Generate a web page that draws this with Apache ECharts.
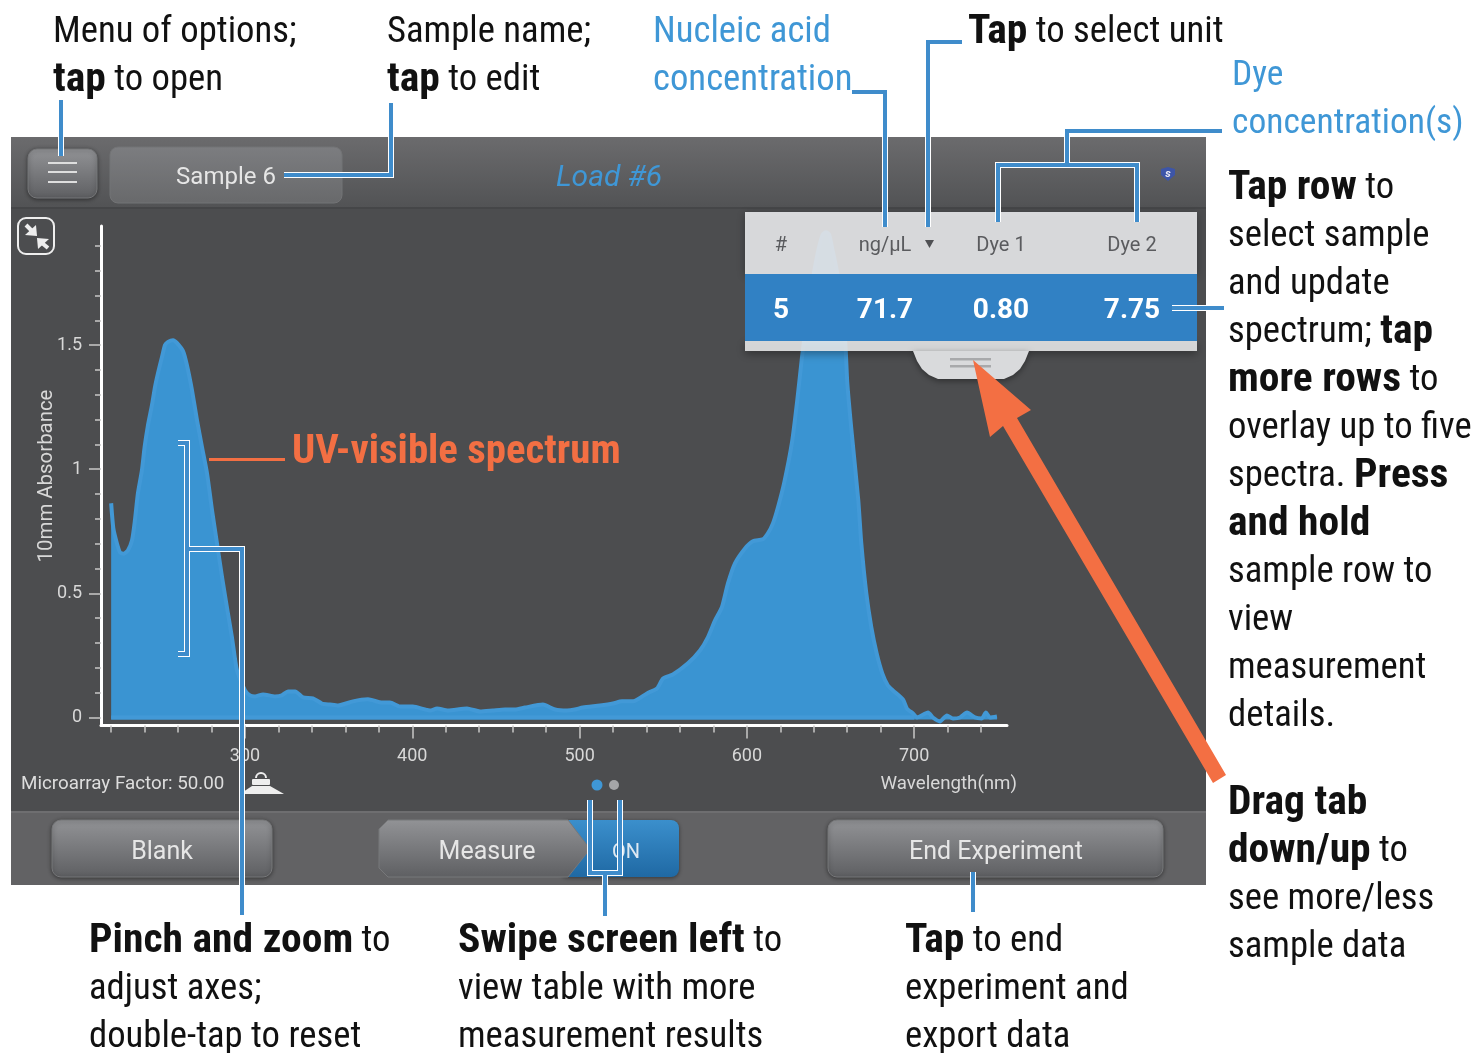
<!DOCTYPE html>
<html>
<head>
<meta charset="utf-8">
<script src="https://cdn.jsdelivr.net/npm/echarts@6/dist/echarts.min.js"></script>
<style>
  html, body { margin: 0; background: #fff; }
  #chart { width: 1475px; height: 1053px; }
</style>
</head>
<body>
<div id="chart"></div>
<script>
// spectrum
var wavelengths = [220, 221.3, 223.5, 225.3, 227.7, 230, 232.5, 234.2, 236, 238.4, 240, 242, 244.4, 246.2, 248, 250.4, 252.2, 254, 257, 259.4, 263, 265.3, 268.3, 271.3, 274.3, 277.3, 280.3, 283.3, 286.3, 289.2, 292.2, 295.2, 300, 303, 306, 310.8, 318, 322, 325.7, 330, 334.7, 340.6, 346, 350.8, 355.6, 364.6, 373.5, 382, 386.7, 392.6, 400.4, 407.6, 410.6, 414.8, 421.3, 432.7, 440.5, 448.2, 455.4, 461.4, 467.4, 478.1, 485.3, 492.5, 497.2, 502, 512.2, 520, 525.3, 532, 540.3, 546.3, 549.9, 555.8, 564.8, 572, 576.7, 581, 585.1, 588.7, 592.9, 598.9, 603.6, 609.6, 612.6, 615.6, 618.6, 622.4, 627, 630, 632.9, 634.1, 640.1, 643, 645.4, 647.3, 649.2, 651, 654, 658.8, 660, 662.4, 666.6, 668.4, 671.4, 674.4, 677.6, 681, 684.3, 687.3, 693.3, 695.7, 699.3, 701.7, 708.3, 711.2, 715.4, 719.6, 723.2, 727.4, 731.6, 736.3, 740.5, 742.9, 745.3, 749.5];
var absorbance = [0.863, 0.762, 0.70, 0.665, 0.66, 0.673, 0.714, 0.794, 0.903, 0.996, 1.089, 1.177, 1.258, 1.331, 1.387, 1.452, 1.5, 1.513, 1.52, 1.508, 1.475, 1.419, 1.319, 1.198, 1.089, 0.984, 0.835, 0.70, 0.565, 0.444, 0.323, 0.19, 0.109, 0.089, 0.085, 0.093, 0.085, 0.089, 0.105, 0.105, 0.081, 0.077, 0.056, 0.052, 0.048, 0.065, 0.073, 0.06, 0.06, 0.044, 0.044, 0.032, 0.028, 0.036, 0.028, 0.036, 0.024, 0.028, 0.032, 0.032, 0.04, 0.052, 0.032, 0.028, 0.032, 0.04, 0.048, 0.056, 0.065, 0.065, 0.097, 0.117, 0.157, 0.173, 0.218, 0.27, 0.323, 0.391, 0.444, 0.54, 0.621, 0.681, 0.71, 0.718, 0.742, 0.782, 0.847, 0.948, 1.109, 1.27, 1.448, 1.512, 1.79, 1.89, 1.945, 1.955, 1.945, 1.89, 1.79, 1.512, 1.351, 1.165, 0.875, 0.702, 0.5, 0.363, 0.258, 0.177, 0.129, 0.109, 0.073, 0.036, 0.016, 0, 0.02, 0, -0.016, 0.008, -0.004, 0, 0.02, 0, -0.004, 0.02, 0, 0.004];
var baselineX = [220, 700];
var baselineY = [0, 0];
var xLabels = [300, 400, 500, 600, 700];
var xMinor = [220, 240, 260, 280, 320, 340, 360, 380, 420, 440, 460, 480, 520, 540, 560, 580, 620, 640, 660, 680, 720, 740];
var yLabels = [0, 0.5, 1, 1.5];
var yMinor = [0.1, 0.2, 0.3, 0.4, 0.6, 0.7, 0.8, 0.9, 1.1, 1.2, 1.3, 1.4, 1.6, 1.7, 1.8, 1.9];
var tableHead = ['#', 'ng/µL', 'Dye 1', 'Dye 2'];
var tableRow = ['5', '71.7', '0.80', '7.75'];
var tableX = [781, 885, 1001, 1132];

// callouts: x, y, text; {b|..} is the bold part
var notes = [
  [53, 33, 'Menu of options;'], [53, 81, '{b|tap} to open'],
  [387, 33, 'Sample name;'], [387, 81, '{b|tap} to edit'],
  [968, 33, '{b|Tap} to select unit'],
  [1228, 189, '{b|Tap row} to'], [1228, 237, 'select sample'], [1228, 285, 'and update'],
  [1228, 333, 'spectrum; {b|tap}'], [1228, 381, '{b|more rows} to'], [1228, 429, 'overlay up to five'],
  [1228, 477, 'spectra. {b|Press}'], [1228, 525, '{b|and hold}'], [1228, 573, 'sample row to'],
  [1228, 621, 'view'], [1228, 669, 'measurement'], [1228, 717, 'details.'],
  [1228, 804, '{b|Drag tab}'], [1228, 852, '{b|down/up} to'], [1228, 900, 'see more/less'], [1228, 948, 'sample data'],
  [89, 942, '{b|Pinch and zoom} to'], [89, 990, 'adjust axes;'], [89, 1038, 'double-tap to reset'],
  [458, 942, '{b|Swipe screen left} to'], [458, 990, 'view table with more'], [458, 1038, 'measurement results'],
  [905, 942, '{b|Tap} to end'], [905, 990, 'experiment and'], [905, 1038, 'export data']
];
var blueNotes = [
  [653, 33, 'Nucleic acid'], [653, 81, 'concentration'],
  [1232, 76, 'Dye', 35.5], [1232, 124, 'concentration(s)', 35.5]
];
// blue leader lines
var leaders = [
  [[61, 100], [61, 156]],
  [[391, 103], [391, 175], [284, 175]],
  [[852, 92], [885, 92], [885, 227]],
  [[962, 42], [928, 42], [928, 227]],
  [[1222, 131], [1067, 131], [1067, 165]],
  [[998, 222], [998, 165], [1137, 165], [1137, 222]],
  [[1224, 308], [1172, 308]],
  [[178, 443], [187, 443], [187, 654], [178, 654]],
  [[187, 549], [242, 549], [242, 915]],
  [[590, 800], [590, 873], [620, 873], [620, 800]],
  [[605, 873], [605, 916]],
  [[973, 872], [973, 912]]
];

var UI = 'Roboto, sans-serif';
var COND = '"Roboto Condensed", sans-serif';
var LG = echarts.graphic.LinearGradient;
function grad(a, b) { return new LG(0, 0, 0, 1, [{ offset: 0, color: a }, { offset: 1, color: b }]); }

function rect(x, y, w, h, r, fill, z, extra) {
  return { type: 'rect', z: z, shape: { x: x, y: y, width: w, height: h, r: r }, style: Object.assign({ fill: fill }, extra || {}) };
}
function label(x, y, text, font, color, z, align) {
  return { type: 'text', z: z, x: x, y: y + 2, style: { text: text, font: font, fill: color, align: align || 'center', verticalAlign: 'middle' } };
}
function poly(points, fill, z) {
  return { type: 'polygon', z: z, shape: { points: points }, style: { fill: fill } };
}
function stroke(points, color, width, z) {
  return { type: 'polyline', z: z, shape: { points: points }, style: { stroke: color, lineWidth: width, fill: null, lineCap: 'butt', lineJoin: 'miter' } };
}
function button(x, y, w, h) {
  return rect(x, y, w, h, 9, grad('#929396', '#5e5f62'), -5, { stroke: '#77787a', lineWidth: 1, shadowBlur: 4, shadowColor: 'rgba(0,0,0,0.45)', shadowOffsetY: 1 });
}
function noteText(n, color) {
  var c = color || '#111';
  return {
    type: 'text', z: 90, x: n[0], y: n[1],
    style: {
      text: n[2], fill: c, font: (n[3] || 36.7) + 'px ' + COND, verticalAlign: 'middle',
      rich: { b: { font: 'bold 41.5px ' + COND, fill: c } }
    }
  };
}

var graphics = [];
// device frame
graphics.push(rect(11, 137, 1195, 748, 0, '#4c4d4f', -10));
graphics.push(rect(11, 137, 1195, 70, 0, grad('#6b6b6d', '#525355'), -9));
graphics.push(rect(11, 207, 1195, 2, 0, '#454648', -9));
graphics.push(rect(11, 812, 1195, 73, 0, '#626264', -9));
graphics.push(rect(11, 811, 1195, 2, 0, '#6e6e70', -9));

// top bar
graphics.push(button(28, 149, 69, 49));
[163, 172, 182].forEach(function (y) { graphics.push(rect(48, y - 1, 29, 2, 0, '#dedede', -4)); });
graphics.push(rect(110, 147, 232, 56, 8, grad('#7c7d80', '#68696b'), -5, { stroke: '#737476', lineWidth: 1 }));
graphics.push(label(226, 176, 'Sample 6', '24px ' + UI, '#e6e6e6', -4));
graphics.push(label(609, 176, 'Load #6', 'italic 30px ' + UI, '#3f97d6', -4));
graphics.push(poly([[1168, 167], [1175, 169], [1175, 175], [1168, 181], [1161, 175], [1161, 169]], '#3d55a8', -4));
graphics.push(label(1168, 172, 's', 'italic bold 11px ' + UI, '#e8e8f4', -3));

// reset zoom icon
graphics.push(rect(18, 218, 36, 36, 8, 'none', -4, { stroke: '#eeeeee', lineWidth: 2 }));
graphics.push(poly([[37, 236], [25, 235], [36, 225]], '#eeeeee', -4));
graphics.push(stroke([[26, 225], [33, 232]], '#eeeeee', 4, -4));
graphics.push(poly([[37, 238], [49, 239], [38, 249]], '#eeeeee', -4));
graphics.push(stroke([[48, 248], [42, 243]], '#eeeeee', 4, -4));

// y axis title, the axis name option would not sit this close to the tick labels
graphics.push({
  type: 'text', z: -4, x: 47, y: 476, rotation: Math.PI / 2,
  style: { text: '10mm Absorbance', font: '20.4px ' + UI, fill: '#d8d8d8', align: 'center', verticalAlign: 'middle' }
});

// below the plot
graphics.push(label(21, 782, 'Microarray Factor: 50.00', '18.8px ' + UI, '#dddddd', -4, 'left'));
graphics.push(poly([[252, 786], [270, 786], [284, 794], [240, 794]], '#eeeeee', -4));
graphics.push(rect(252, 779, 18, 6, 1, '#eeeeee', -4));
graphics.push({ type: 'arc', z: -4, shape: { cx: 261, cy: 778, r: 5, startAngle: Math.PI, endAngle: 0 }, style: { stroke: '#eeeeee', lineWidth: 2, fill: null } });
graphics.push({ type: 'circle', z: -4, shape: { cx: 597, cy: 785, r: 5.5 }, style: { fill: '#3f97d6' } });
graphics.push({ type: 'circle', z: -4, shape: { cx: 614, cy: 785, r: 5 }, style: { fill: '#a5a6a8' } });

// bottom buttons
graphics.push(button(52, 820, 220, 57));
graphics.push(label(162, 851, 'Blank', '25px ' + UI, '#e6e6e6', -4));
graphics.push(rect(560, 820, 119, 57, 8, grad('#3b8fcc', '#1f69a4'), -6, { shadowBlur: 4, shadowColor: 'rgba(0,0,0,0.45)', shadowOffsetY: 1 }));
graphics.push({ type: 'polygon', z: -5, shape: { points: [[388, 820], [568, 820], [590, 849], [568, 877], [388, 877], [379, 868], [379, 829]] }, style: { fill: grad('#929396', '#5e5f62'), stroke: '#77787a', lineWidth: 1 } });
graphics.push(label(487, 851, 'Measure', '25px ' + UI, '#e6e6e6', -4));
graphics.push(label(626, 851, 'ON', '20px ' + UI, '#dfe9f2', -4));
graphics.push(button(828, 820, 335, 57));
graphics.push(label(996, 851, 'End Experiment', '25px ' + UI, '#e6e6e6', -4));

// results panel sits over the curve
graphics.push(rect(745, 212, 452, 62, 0, 'rgba(233,234,236,0.9)', 50, { shadowBlur: 8, shadowColor: 'rgba(0,0,0,0.35)', shadowOffsetY: 2 }));
graphics.push(rect(745, 341, 452, 10, 0, 'rgba(233,234,236,0.88)', 50, { shadowBlur: 8, shadowColor: 'rgba(0,0,0,0.4)', shadowOffsetY: 3 }));
graphics.push({
  type: 'polygon', z: 50, shape: { points: [[913, 351], [917, 361], [922, 369], [929, 375], [938, 379], [1004, 379], [1013, 375], [1020, 369], [1025, 361], [1029, 351]] },
  style: { fill: '#d9dadc', shadowBlur: 6, shadowColor: 'rgba(0,0,0,0.4)', shadowOffsetY: 2 }
});
graphics.push(rect(745, 274, 452, 67, 0, '#3181c4', 51));
graphics.push(rect(950, 358, 41, 2.5, 0, '#a8a9ab', 52));
graphics.push(rect(950, 365, 41, 2.5, 0, '#a8a9ab', 52));
tableHead.forEach(function (t, i) { graphics.push(label(tableX[i], 244, t, '20px ' + UI, '#5a5b5e', 52)); });
graphics.push(poly([[925, 240], [934, 240], [929.5, 248]], '#4f5053', 52));
tableRow.forEach(function (t, i) { graphics.push(label(tableX[i], 309, t, 'bold 28px ' + UI, '#ffffff', 52)); });

// leader lines, white edge then blue core
leaders.forEach(function (pts) {
  graphics.push(stroke(pts, '#ffffff', 6, 60));
});
leaders.forEach(function (pts) {
  graphics.push(stroke(pts, '#3f8ccb', 4, 61));
});

// orange arrow and label
graphics.push(rect(209, 458, 76, 3, 0, '#f36f43', 70));
graphics.push(poly([[973, 360], [1031, 410], [1017, 418], [1226, 775], [1213, 783], [1003, 426], [990, 437]], '#f36f43', 70));
graphics.push(label(292, 451, 'UV-visible spectrum', 'bold 40.8px ' + COND, '#f36f43', 90, 'left'));

notes.forEach(function (n) { graphics.push(noteText(n)); });
blueNotes.forEach(function (n) { graphics.push(noteText(n, '#3f97d6')); });

var chart = echarts.init(document.getElementById('chart'), null, { renderer: 'canvas' });
var xRange = { min: 213.93, max: 755.5 };
var yRange = { min: -0.0323, max: 1.9798 };
var axisText = { color: '#d8d8d8', fontSize: 18, fontFamily: 'Roboto' };

chart.setOption({
  animation: false,
  backgroundColor: '#ffffff',
  grid: { left: 101, right: 468, top: 226, bottom: 327.5 },
  xAxis: [
    {
      type: 'value', min: xRange.min, max: xRange.max, position: 'bottom',
      name: 'Wavelength(nm)', nameLocation: 'end', nameGap: 10,
      nameTextStyle: Object.assign({}, axisText, { fontSize: 18.7, align: 'right', verticalAlign: 'top', padding: [49, 0, 0, 0] }),
      splitLine: { show: false },
      axisLine: { onZero: false, lineStyle: { color: '#ffffff', width: 3 } },
      axisTick: { length: 13, customValues: xLabels, lineStyle: { color: '#c8c8c8', width: 1.5 } },
      axisLabel: Object.assign({}, axisText, { margin: 22, customValues: xLabels })
    },
    {
      type: 'value', min: xRange.min, max: xRange.max, position: 'bottom',
      splitLine: { show: false },
      axisLine: { show: false, onZero: false },
      axisTick: { length: 7, customValues: xMinor, lineStyle: { color: '#c8c8c8', width: 1.5 } },
      axisLabel: { show: false }
    }
  ],
  yAxis: [
    {
      type: 'value', min: yRange.min, max: yRange.max, position: 'left',
      splitLine: { show: false },
      axisLine: { onZero: false, lineStyle: { color: '#ffffff', width: 3 } },
      axisTick: { length: 12, customValues: yLabels, lineStyle: { color: '#c8c8c8', width: 1.5 } },
      axisLabel: Object.assign({}, axisText, { margin: 19, customValues: yLabels })
    },
    {
      type: 'value', min: yRange.min, max: yRange.max, position: 'left',
      splitLine: { show: false },
      axisLine: { show: false, onZero: false },
      axisTick: { length: 6, customValues: yMinor, lineStyle: { color: '#c8c8c8', width: 1.5 } },
      axisLabel: { show: false }
    }
  ],
  series: [
    {
      type: 'line', showSymbol: false, smooth: 0.2,
      data: wavelengths.map(function (w, i) { return [w, absorbance[i]]; }),
      lineStyle: { color: '#4299d7', width: 4, join: 'round' },
      areaStyle: { color: '#3a94d2', opacity: 1, origin: -0.008 }
    },
    {
      type: 'line', showSymbol: false,
      data: baselineX.map(function (w, i) { return [w, baselineY[i]]; }),
      lineStyle: { color: '#4299d7', width: 4 }
    }
  ],
  graphic: { elements: graphics }
});
</script>
</body>
</html>
